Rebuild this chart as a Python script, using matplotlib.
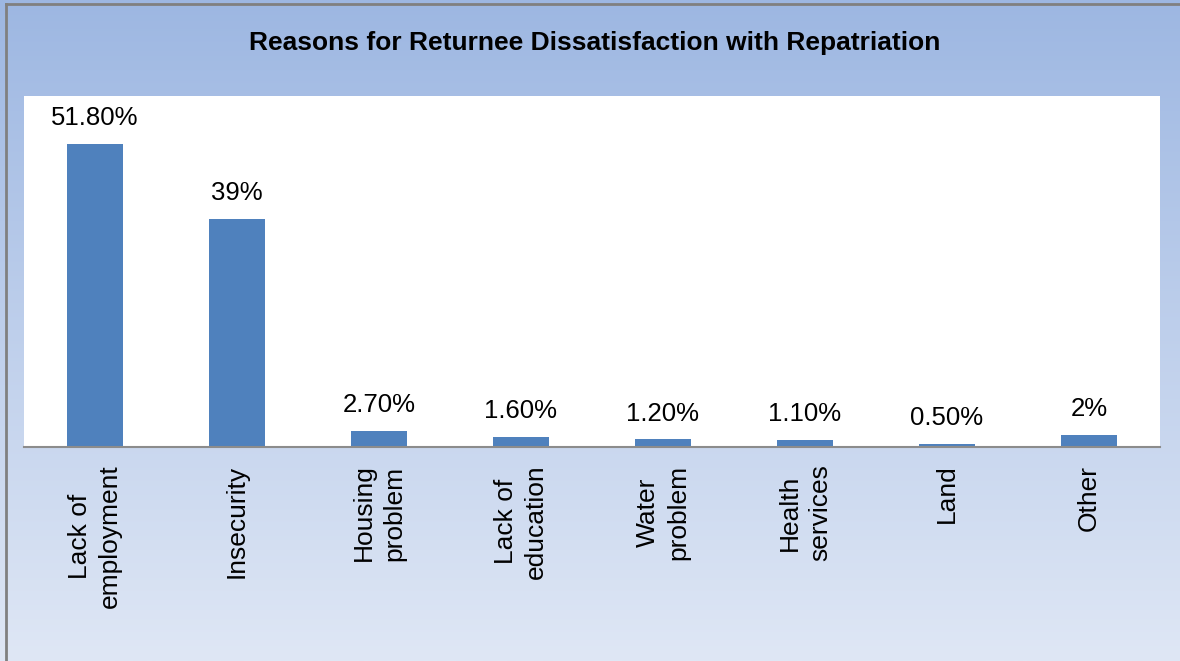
import numpy as np
import matplotlib.pyplot as plt

plt.rcParams["font.family"] = ["Liberation Sans", "DejaVu Sans"]

# Data
categories = ["Lack of\nemployment", "Insecurity", "Housing\nproblem", "Lack of\neducation",
              "Water\nproblem", "Health\nservices", "Land", "Other"]
values = [51.8, 39.0, 2.7, 1.6, 1.2, 1.1, 0.5, 2.0]
value_labels = ["51.80%", "39%", "2.70%", "1.60%", "1.20%", "1.10%", "0.50%", "2%"]

fig = plt.figure(figsize=(11.8, 6.61), dpi=100)

# gradient background behind everything
bg = fig.add_axes([0, 0, 1, 1], zorder=-10)
top_col = np.array([157, 183, 226]) / 255
bot_col = np.array([223, 231, 245]) / 255
t = np.linspace(0, 1, 256)[:, None]
grad = (1 - t) * top_col + t * bot_col
bg.imshow(grad[:, None, :], aspect="auto", extent=[0, 1, 0, 1])
bg.set_xlim(0, 1)
bg.set_ylim(0, 1)
bg.axis("off")

# gray frame at top and left
W, H = 1180, 661
bg.plot([6 / W, 6 / W], [0, 1 - 3.5 / H], color="#808080", lw=2)
bg.plot([6 / W, 1], [1 - 4 / H, 1 - 4 / H], color="#808080", lw=2)

ax = fig.add_axes([24 / W, 1 - 446.5 / H, (1160 - 24) / W, (446.5 - 96) / H])
ax.set_facecolor("white")

x = np.arange(len(categories))
ax.bar(x, values, width=0.4, color="#4f81bd")

for xi, v, lab in zip(x, values, value_labels):
    ax.annotate(lab, xy=(xi, v), xytext=(0, 10), textcoords="offset points",
                ha="center", va="bottom", fontsize=18.5)

ax.set_xlim(-0.5, len(categories) - 0.5)
ax.set_ylim(0, 60)
ax.set_yticks([])
ax.set_xticks(x)
ax.set_xticklabels(categories, rotation=90, fontsize=19, ha="center", va="top",
                   multialignment="center", linespacing=1.35)
ax.tick_params(axis="x", length=0, pad=13)
for s in ["top", "left", "right"]:
    ax.spines[s].set_visible(False)
ax.spines["bottom"].set_color("#8c8c8c")
ax.spines["bottom"].set_linewidth(1.5)

fig.text(595 / W, 1 - 43 / H, "Reasons for Returnee Dissatisfaction with Repatriation",
         ha="center", va="center", fontsize=19, fontweight="bold")

fig.savefig("out.png", dpi=100)
